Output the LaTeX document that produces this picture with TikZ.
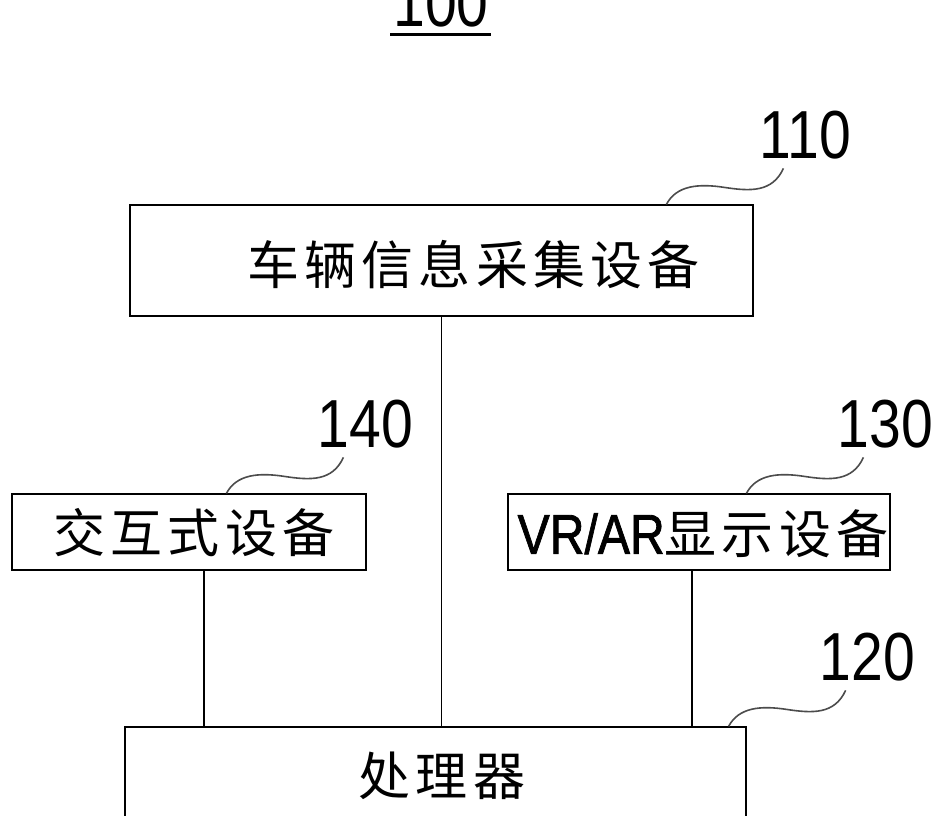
\documentclass[tikz,border=0pt]{standalone}
\usepackage{fontspec}
\setmainfont{Liberation Sans}
\newfontfamily\cjk[LetterSpace=10]{Noto Sans CJK SC}
\usetikzlibrary{calc}
\newcommand{\refnum}[1]{\scalebox{0.84}[1]{#1}}
\begin{document}
\begin{tikzpicture}[x=1pt,y=-1pt,
  box/.style={draw,line width=1.2pt,inner sep=0pt,minimum width=#1},
  txt/.style={inner sep=0pt,font=\fontsize{52}{60}\selectfont\cjk},
  num/.style={inner sep=0pt,font=\fontsize{68}{70}\selectfont},
  conn/.style={line width=1.1pt},
  squig/.style={line width=1.6pt,draw=black!70}]
\clip (0,0) rectangle (948,816);
\fill[white] (0,0) rectangle (948,816);
% title
\node[num] (t) at (441,3) {\refnum{100}};
\draw[line width=2.6pt] ($(t.south)+(-51,7)$) -- ($(t.south)+(50,7)$);
% boxes
\node[box=623pt,minimum height=111pt] (b110) at (441.5,260.5) {};
\node[box=354pt,minimum height=76pt] (b140) at (189,532) {};
\node[box=382pt,minimum height=76pt] (b130) at (699,532) {};
\node[box=621pt,minimum height=140pt] (b120) at (435.5,797) {};
% texts
\node[txt] (x110) at ($(b110.center)+(32,4)$) {车辆信息采集设备};
\node[txt] (x140) at ($(b140.center)+(5,1)$) {交互式设备};
\node[txt] (x130) at ($(b130.center)+(4,2)$) {{\fontspec{Liberation Sans}[FakeBold=1.5]\fontsize{56}{60}\selectfont\scalebox{0.86}[1]{VR/AR}}显示设备};
\node[txt] (x120) at (442,776) {处理器};
% connectors
\draw[conn] (b110.south) -- (b110.south |- b120.north);
\coordinate (c140) at ($(b140.south)+(15,0)$);
\draw[conn] (c140) -- (c140 |- b120.north);
\coordinate (c130) at ($(b130.south)+(-7,0)$);
\draw[conn] (c130) -- (c130 |- b120.north);
% leaders
\coordinate (s110) at ($(b110.north west)+(537,0)$);
\coordinate (s140) at ($(b140.north west)+(215,0)$);
\coordinate (s130) at ($(b130.north west)+(239,0)$);
\coordinate (s120) at ($(b120.north east)+(-18,0)$);
\foreach \s/\lab in {s110/110,s140/140,s130/130,s120/120}{
  \begin{scope}[shift={(\s)}]
    \draw[squig] (0,0) .. controls (10,-19) and (32,-21) .. (58,-17)
      .. controls (84,-13) and (106,-12) .. (117,-36);
    \node[num] (n\lab) at (139,-69) {\refnum{\lab}};
  \end{scope}
}
\end{tikzpicture}
\end{document}
